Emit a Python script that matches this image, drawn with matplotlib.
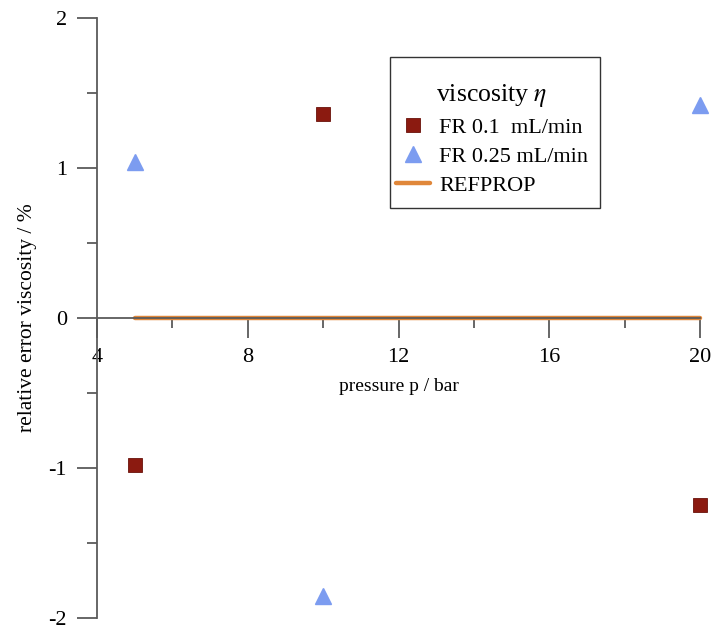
import numpy as np
import matplotlib.pyplot as plt
from matplotlib.ticker import MultipleLocator
from matplotlib.patches import Rectangle

plt.rcParams['font.family'] = ['Liberation Serif', 'DejaVu Serif']
plt.rcParams['mathtext.fontset'] = 'stix'
plt.rcParams['axes.unicode_minus'] = False

pressure = [5, 10, 20]
err_fr01 = [-0.98, 1.36, -1.25]
err_fr025 = [1.04, -1.85, 1.42]
refprop_p = [5, 20]
refprop_err = [0, 0]

axis_grey = '#5a5a5a'
W, H = 713, 631

fig = plt.figure(figsize=(W / 100, H / 100), dpi=100)
ax = fig.add_axes([0.136, 0.0206, 0.846, 0.9509])

ax.plot(refprop_p, refprop_err, color='#e0873a', lw=3.2, solid_capstyle='round',
        label='REFPROP', zorder=2, clip_on=False)
ax.plot(pressure, err_fr01, 's', ms=10, color='#8b1a10', mec='#6a120a', mew=0.6,
        label='FR 0.1  mL/min', zorder=3, clip_on=False)
ax.plot(pressure, err_fr025, '^', ms=12, color='#7c9cf0', mec='#7c9cf0',
        label='FR 0.25 mL/min', zorder=3, clip_on=False)

ax.set_xlim(4, 20)
ax.set_ylim(-2, 2)

ax.spines['top'].set_visible(False)
ax.spines['right'].set_visible(False)
ax.spines['bottom'].set_position(('data', 0))
for s in ['left', 'bottom']:
    ax.spines[s].set_color(axis_grey)
    ax.spines[s].set_linewidth(1.3)

ax.xaxis.set_major_locator(MultipleLocator(4))
ax.xaxis.set_minor_locator(MultipleLocator(2))
ax.yaxis.set_major_locator(MultipleLocator(1))
ax.yaxis.set_minor_locator(MultipleLocator(0.5))
ax.tick_params(which='both', direction='out', color=axis_grey, width=1.3,
               labelsize=16)
ax.tick_params(which='major', length=14.5)
ax.tick_params(which='minor', length=7.5)
ax.tick_params(axis='x', pad=7)
ax.tick_params(axis='y', pad=7)

ax.set_xlabel('pressure p / bar', fontsize=14, labelpad=8)
ax.set_ylabel('relative error viscosity / %', fontsize=15.5, labelpad=8)

# legend frame drawn separately so its padding can be set freely
ax.add_patch(Rectangle((390 / W, 1 - 208 / H), 210 / W, 151 / H,
                       transform=fig.transFigure, facecolor='white',
                       edgecolor='#333333', lw=1.0, zorder=4, clip_on=False))

handles, labels = ax.get_legend_handles_labels()
order = [1, 2, 0]
leg = ax.legend([handles[i] for i in order], [labels[i] for i in order],
                title=r'viscosity $\eta$', title_fontsize=18.5, fontsize=16,
                loc='upper left', bbox_to_anchor=(396 / W, 1 - 82 / H),
                bbox_transform=fig.transFigure, borderaxespad=0,
                frameon=False, borderpad=0,
                handlelength=1.55, handletextpad=0.4,
                labelspacing=0.38)
leg.set_zorder(5)

fig.savefig('out.png', dpi=100)
